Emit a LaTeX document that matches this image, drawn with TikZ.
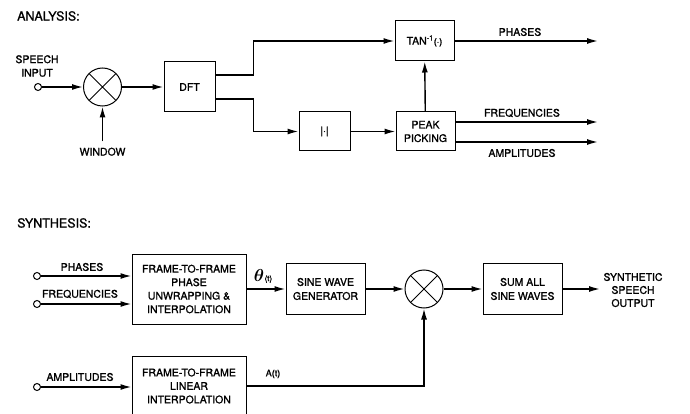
\documentclass[tikz,border=0pt]{standalone}
\usepackage{bm}
\usepackage{fontspec}
\setmainfont{TeX Gyre Heros}[FakeBold=1.2]
\usetikzlibrary{positioning,arrows.meta}
\newcommand{\SineModelText}{\fontsize{10.5}{13.5}\selectfont}
\newcommand{\SineModelTitle}{\fontsize{12.5}{15}\selectfont}

\begin{document}
\begin{tikzpicture}[x=1pt,y=-1pt,
		block/.style 2 args={draw, line width=1pt, minimum width=#1, minimum height=#2, inner sep=0pt, align=center, font=\SineModelText},
		mixer/.style={draw, circle, line width=1pt, minimum size=38pt, inner sep=0pt,
			path picture={\draw[line width=1pt] (path picture bounding box.north west) -- (path picture bounding box.south east)
				(path picture bounding box.north east) -- (path picture bounding box.south west);}},
		port/.style={draw, circle, line width=1pt, minimum size=7pt, inner sep=0pt, fill=white},
		lbl/.style={inner sep=0pt, align=center, font=\SineModelText},
		flow/.style={line width=1.4pt, -{Latex[length=11pt,width=6pt]}},
	]
		\clip (0,0) rectangle (690,414);
		% analysis
		\node[lbl, anchor=west, font=\SineModelTitle] (anaT) at (17,16) {ANALYSIS:};
		\node[port] (a0) at (38,87) {};
		\node[lbl] (a0l) at (37,66) {SPEECH\\INPUT};
		\node[mixer, right=41pt of a0] (a1) {};
		\node[lbl, below=41pt of a1] (a1l) {WINDOW};
		\node[block={51pt}{50pt}, right=41.5pt of a1] (a2) {DFT};
		\node[block={59pt}{40pt}] (a3) at (424.5,41) {TAN\textsuperscript{-1}{\small(·)}};
		\node[block={51pt}{39pt}] (a4) at (324.5,131.5) {|·|};
		\node[block={59pt}{39pt}, right=45pt of a4] (a5) {PEAK\\PICKING};
		\coordinate (a3o) at (598,41);
		\coordinate (a5f) at (598,122);
		\coordinate (a5a) at (598,142);
		\node[lbl] (a3l) at (520,32) {PHASES};
		\node[lbl] (a5fl) at (522,113) {FREQUENCIES};
		\node[lbl] (a5al) at (522,153) {AMPLITUDES};
		\draw[flow] (a0) -- (a1);
		\draw[flow, shorten <=6pt] (a1l.north) -- (a1.south);
		\draw[flow] (a1) -- (a2);
		\draw[flow] ([yshift=12pt]a2.east) -- ++(38,0) |- (a3.west);
		\draw[flow] ([yshift=-12pt]a2.east) -- ++(38,0) |- (a4.west);
		\draw[flow] (a4) -- (a5);
		\draw[flow] (a5) -- (a3);
		\draw[flow] (a3) -- (a3o);
		\draw[flow] ([yshift=9.5pt]a5.east) -- (a5f);
		\draw[flow] ([yshift=-10.5pt]a5.east) -- (a5a);
		% synthesis
		\node[lbl, anchor=west, font=\SineModelTitle] (synT) at (17,223) {SYNTHESIS:};
		\node[port] (s0) at (37,276) {};
		\node[port] (s1) at (37,304) {};
		\node[port] (s2) at (37,387) {};
		\node[lbl] (s0l) at (82,267) {PHASES};
		\node[lbl] (s1l) at (80,294) {FREQUENCIES};
		\node[lbl] (s2l) at (80,377) {AMPLITUDES};
		\node[block={114pt}{70pt}] (s3) at (189,289) {FRAME-TO-FRAME\\PHASE\\UNWRAPPING \&\\INTERPOLATION};
		\node[block={114pt}{60pt}] (s4) at (189,386) {FRAME-TO-FRAME\\LINEAR\\INTERPOLATION};
		\node[block={79pt}{51pt}, font=\fontsize{10.5}{14}\selectfont, right=39pt of s3] (s5) {SINE WAVE\\GENERATOR};
		\node[mixer, right=39pt of s5] (s6) {};
		\node[block={79pt}{51pt}, font=\fontsize{10.5}{14}\selectfont, right=39pt of s6] (s7) {SUM ALL\\SINE WAVES};
		\coordinate (s7o) at (600,289);
		\node[lbl, font=\fontsize{10.5}{13}\selectfont] (s7l) at (633,290) {SYNTHETIC\\SPEECH\\OUTPUT};
		\node[lbl] (s3l) at (263,276) {\fontsize{17}{17}\selectfont$\bm{\theta}$\kern0.5pt{\fontsize{8}{8}\selectfont(t)}};
		\node[lbl, font=\fontsize{9}{9}\selectfont] (s4l) at (273,374) {A(t)};
		\draw[flow] (s0) -- (s0 -| s3.west);
		\draw[flow] (s1) -- (s1 -| s3.west);
		\draw[flow] (s2) -- (s2 -| s4.west);
		\draw[flow] (s3) -- (s5);
		\draw[flow] (s5) -- (s6);
		\draw[flow] (s6) -- (s7);
		\draw[flow] (s7) -- (s7o);
		\draw[flow] (s4.east) -| (s6.south);
	\end{tikzpicture}
\end{document}
